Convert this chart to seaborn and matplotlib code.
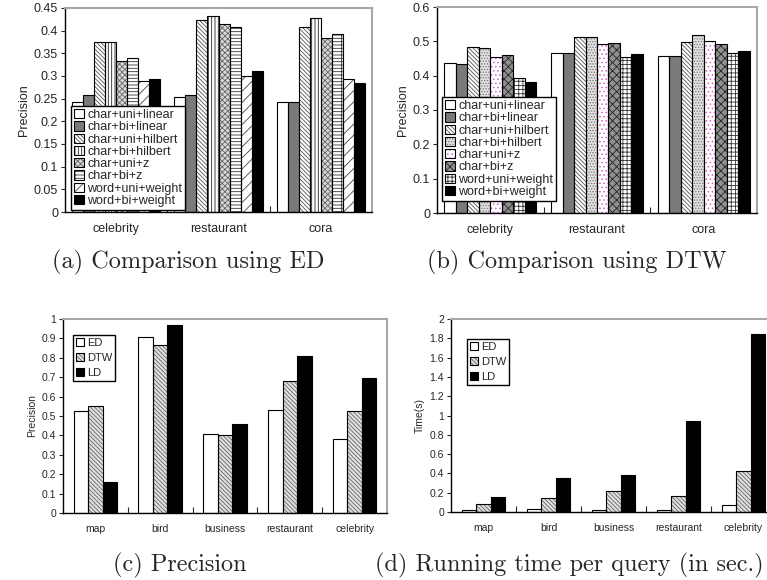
import numpy as np
import pandas as pd
import matplotlib
matplotlib.use('Agg')
import matplotlib.pyplot as plt
import seaborn as sns
from matplotlib.legend_handler import HandlerTuple
from matplotlib.ticker import FuncFormatter, MultipleLocator, FixedLocator

sns.set_theme(style='white')
plt.rcParams['font.family'] = ['Liberation Sans', 'DejaVu Sans']
plt.rcParams['hatch.linewidth'] = 0.6

# ---------------- data ----------------
methods = ['char+uni+linear', 'char+bi+linear', 'char+uni+hilbert', 'char+bi+hilbert',
           'char+uni+z', 'char+bi+z', 'word+uni+weight', 'word+bi+weight']
cats_ab = ['celebrity', 'restaurant', 'cora']
ed_celebrity = [0.242, 0.257, 0.375, 0.375, 0.333, 0.340, 0.290, 0.294]
ed_restaurant = [0.253, 0.257, 0.423, 0.433, 0.415, 0.407, 0.301, 0.312]
ed_cora = [0.242, 0.242, 0.407, 0.428, 0.384, 0.393, 0.293, 0.285]
dtw_celebrity = [0.437, 0.434, 0.483, 0.481, 0.454, 0.459, 0.394, 0.383]
dtw_restaurant = [0.466, 0.466, 0.512, 0.512, 0.492, 0.495, 0.453, 0.463]
dtw_cora = [0.456, 0.456, 0.498, 0.519, 0.500, 0.493, 0.466, 0.473]

cats_cd = ['map', 'bird', 'business', 'restaurant', 'celebrity']
measures = ['ED', 'DTW', 'LD']
prec_ed = [0.528, 0.909, 0.405, 0.531, 0.384]
prec_dtw = [0.550, 0.864, 0.402, 0.678, 0.528]
prec_ld = [0.159, 0.971, 0.459, 0.810, 0.697]
time_ed = [0.017, 0.035, 0.024, 0.024, 0.069]
time_dtw = [0.087, 0.149, 0.221, 0.170, 0.429]
time_ld = [0.156, 0.353, 0.388, 0.945, 1.844]


def long_df(cats, series_names, series_vals, cat_col, hue_col):
    rows = []
    for name, vals in zip(series_names, series_vals):
        for c, v in zip(cats, vals):
            rows.append({cat_col: c, hue_col: name, 'value': v})
    return pd.DataFrame(rows)


df_a = long_df(cats_ab, methods,
               [list(t) for t in zip(ed_celebrity, ed_restaurant, ed_cora)], 'cat', 'method')
df_b = long_df(cats_ab, methods,
               [list(t) for t in zip(dtw_celebrity, dtw_restaurant, dtw_cora)], 'cat', 'method')
df_c = long_df(cats_cd, measures, [prec_ed, prec_dtw, prec_ld], 'cat', 'measure')
df_d = long_df(cats_cd, measures, [time_ed, time_dtw, time_ld], 'cat', 'measure')

# styles: (facecolor, hatch, hatchcolor)
styles_a = [('white', '', None), ('#7a7a7a', '', None), ('white', '\\\\\\\\\\\\\\\\', '#555555'),
            ('white', '|||||', '#222222'), ('#d8d8d8', 'xxxxxx', '#666666'),
            ('white', '-----|', '#333333'), ('white', '///', '#444444'), ('black', '', None)]
styles_b = [('white', '', None), ('#7a7a7a', '', None), ('white', '\\\\\\\\\\\\\\\\', '#555555'),
            ('#e0e0e0', '......', '#777777'), ('white', '....', '#d060d0'),
            ('#909090', 'xxxx', '#222222'), ('white', '++++', '#333333'), ('black', '', None)]
styles_cd = [('white', '', None), ('#e0e0e0', '\\\\\\\\\\\\\\\\', '#666666'), ('black', '', None)]

W, H = 767, 580
fig = plt.figure(figsize=(W / 100, H / 100), dpi=100)


def px_axes(l, r, t, b):
    return fig.add_axes([l / W, 1 - b / H, (r - l) / W, (b - t) / H])


def draw(ax, df, hue, order, hue_order, width, styles, ylim, step, ylabel,
         fs_tick, fs_lab, leg_anchor, leg_fs, leg_spacing):
    n = len(order)
    sns.barplot(data=df, x='cat', y='value', hue=hue, order=order, hue_order=hue_order,
                width=width, gap=0, palette=[s[0] for s in styles], saturation=1,
                errorbar=None, linewidth=0, legend=False, ax=ax)
    fill_patches = list(ax.patches)
    for i, (fc, hatch, hc) in enumerate(styles):
        for j in range(n):
            p = fill_patches[i * n + j]
            p.set_facecolor(fc)
            if hatch:
                p.set_hatch(hatch)
                p.set_edgecolor(hc)
            else:
                p.set_edgecolor('none')
            p.set_linewidth(0)
    sns.barplot(data=df, x='cat', y='value', hue=hue, order=order, hue_order=hue_order,
                width=width, gap=0, fill=False, errorbar=None, linewidth=0.8,
                legend=False, ax=ax)
    out_patches = list(ax.patches)[len(fill_patches):]
    for p in out_patches:
        p.set_edgecolor('black')
        p.set_facecolor('none')
        p.set_linewidth(0.8)

    ax.set_ylim(*ylim)
    ax.set_xlim(-0.5, n - 0.5)
    ax.yaxis.set_major_locator(MultipleLocator(step))
    ax.yaxis.set_major_formatter(FuncFormatter(lambda v, p: f'{round(v, 4):g}'))
    ax.tick_params(axis='y', which='major', direction='out', length=3, width=0.8,
                   labelsize=fs_tick, pad=2, left=True)
    ax.tick_params(axis='x', which='major', length=0, labelsize=fs_lab, pad=8)
    ax.xaxis.set_minor_locator(FixedLocator(np.arange(0.5, n - 0.5, 1.0)))
    ax.tick_params(axis='x', which='minor', direction='in', length=4, width=0.8,
                   bottom=True)
    ax.set_xlabel('')
    ax.set_ylabel(ylabel, fontsize=fs_lab, labelpad=3)
    for s in ['left', 'bottom']:
        ax.spines[s].set_color('black')
        ax.spines[s].set_linewidth(1.0)
    for s in ['top', 'right']:
        ax.spines[s].set_color('#a8a8a8')
        ax.spines[s].set_linewidth(1.5)

    handles = [(fill_patches[i * n], out_patches[i * n]) for i in range(len(hue_order))]
    leg = ax.legend(handles, hue_order, handler_map={tuple: HandlerTuple(ndivide=1, pad=0)},
                    loc='upper left', bbox_to_anchor=(leg_anchor[0] / W, 1 - leg_anchor[1] / H),
                    bbox_transform=fig.transFigure, fontsize=leg_fs, frameon=True,
                    fancybox=False, edgecolor='black', framealpha=1,
                    handlelength=0.75, handleheight=0.75, handletextpad=0.3,
                    labelspacing=leg_spacing, borderpad=0.25, borderaxespad=0)
    leg.get_frame().set_linewidth(1.0)
    leg.set_zorder(5)


ax_a = px_axes(65, 372, 8, 212)
draw(ax_a, df_a, 'method', cats_ab, methods, 0.86, styles_a, (0, 0.45), 0.05, 'Precision',
     9, 9, (71, 106), 9, 0.02)
ax_b = px_axes(437, 757, 7, 213)
draw(ax_b, df_b, 'method', cats_ab, methods, 0.86, styles_b, (0, 0.6), 0.1, 'Precision',
     9, 9, (442, 97), 9, 0.02)
ax_c = px_axes(63, 387, 319, 513)
draw(ax_c, df_c, 'measure', cats_cd, measures, 0.67, styles_cd, (0, 1), 0.1, 'Precision',
     7.5, 7.5, (73, 335), 8, 0.45)
ax_d = px_axes(451, 776, 319, 512)
draw(ax_d, df_d, 'measure', cats_cd, measures, 0.67, styles_cd, (0, 2), 0.2, 'Time(s)',
     7.5, 7.5, (467, 339), 8, 0.45)

cap = dict(family='cmr10', fontsize=17.5, ha='center', va='center')
fig.text(188 / W, 1 - 262 / H, '(a) Comparison using ED', **cap)
fig.text(577 / W, 1 - 262 / H, '(b) Comparison using DTW', **cap)
fig.text(180 / W, 1 - 565 / H, '(c) Precision', **cap)
fig.text(569 / W, 1 - 565 / H, '(d) Running time per query (in sec.)', **cap)

fig.savefig('out.png', dpi=100)
